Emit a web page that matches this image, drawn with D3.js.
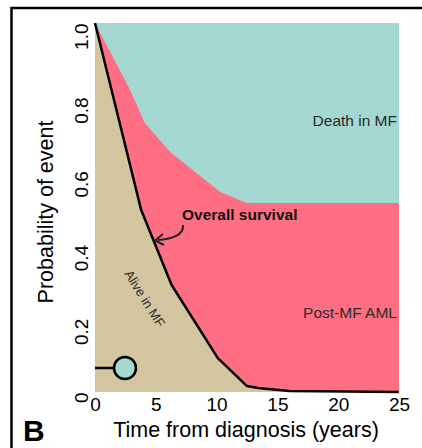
<!DOCTYPE html>
<html><head><meta charset="utf-8">
<script src="https://cdn.jsdelivr.net/npm/d3@7"></script>
<style>body{margin:0;background:#fff}svg{display:block}text{font-family:"Liberation Sans",Arial,sans-serif}</style>
</head><body>
<script>
// Overall survival (boundary Alive in MF / Post-MF AML)
const osTimes  = [0, 3.8, 6.3, 10.1, 12.5, 13.4, 16, 25];
const osValues = [1.0, 0.493, 0.29, 0.092, 0.016, 0.011, 0.003, 0.0];
// Cumulative Alive + Post-MF AML (boundary Post-MF AML / Death in MF)
const amlTimes  = [0, 2.9, 4.1, 6.2, 10.3, 12.5, 25];
const amlValues = [1.0, 0.818, 0.729, 0.65, 0.542, 0.512, 0.512];
const xTicks = [0, 5, 10, 15, 20, 25];
const yTicks = [0, 0.2, 0.4, 0.6, 0.8, 1.0];
const yTickLabels = ["0", "0.2", "0.4", "0.6", "0.8", "1.0"];
const regionLabels = ["Death in MF", "Post-MF AML", "Alive in MF"];

const W = 422, H = 448;
const FONT = '"Liberation Sans",Arial,sans-serif';
const svg = d3.select("body").append("svg").attr("width", W).attr("height", H);
const x = d3.scaleLinear().domain([0, 25]).range([95, 399]);
const y = d3.scaleLinear().domain([0, 1]).range([392, 23]);

const C_TEAL = "#a4d8d0", C_PINK = "#ff6f83", C_TAN = "#d3c59f";

// frame
svg.append("path").attr("d", `M11.5,${H} V8 H${W}`).attr("fill", "none").attr("stroke", "#000").attr("stroke-width", 2.5);

// teal background (Death in MF)
svg.append("rect").attr("x", x(0)).attr("y", y(1)).attr("width", x(25) - x(0)).attr("height", y(0) - y(1)).attr("fill", C_TEAL);

const os = osTimes.map((t, i) => [t, osValues[i]]);
const aml = amlTimes.map((t, i) => [t, amlValues[i]]);

svg.append("path").datum(aml)
  .attr("d", d3.area().x(d => x(d[0])).y0(y(0)).y1(d => y(d[1])))
  .attr("fill", C_PINK);
svg.append("path").datum(os)
  .attr("d", d3.area().x(d => x(d[0])).y0(y(0)).y1(d => y(d[1])))
  .attr("fill", C_TAN);
svg.append("path").datum(os)
  .attr("d", d3.line().x(d => x(d[0])).y(d => y(d[1])))
  .attr("fill", "none").attr("stroke", "#000").attr("stroke-width", 2.5).attr("stroke-linejoin", "round");

// axes
const gx = svg.append("g").attr("transform", `translate(0,${y(0)})`)
  .call(d3.axisBottom(x).tickValues(xTicks).tickSize(0).tickPadding(6).tickFormat(d3.format("d")));
gx.select(".domain").remove();
gx.selectAll("text").attr("font-size", 19).attr("fill", "#000").style("font-family", FONT);

const gy = svg.append("g").attr("transform", `translate(${x(0)},0)`)
  .call(d3.axisLeft(y).tickValues(yTicks).tickSize(0).tickFormat((d, i) => yTickLabels[i]));
gy.select(".domain").remove();
gy.selectAll("text").attr("x", 0).attr("dy", 0)
  .attr("transform", "translate(-7,0) rotate(-90)").attr("text-anchor", "end")
  .attr("font-size", 19).attr("fill", "#000").style("font-family", FONT);

// axis titles
svg.append("text").attr("x", 246).attr("y", 437).attr("text-anchor", "middle").attr("font-size", 21.5).text("Time from diagnosis (years)");
svg.append("text").attr("transform", "translate(53,212) rotate(-90)").attr("text-anchor", "middle").attr("font-size", 21.5).text("Probability of event");

// region labels
svg.append("text").attr("x", 397).attr("y", 126).attr("text-anchor", "end").attr("font-size", 15.5).attr("fill", "#2a2a2a").text(regionLabels[0]);
svg.append("text").attr("x", 397).attr("y", 318).attr("text-anchor", "end").attr("font-size", 15.5).attr("fill", "#2a2a2a").text(regionLabels[1]);
svg.append("text").attr("transform", "translate(141,301) rotate(58)").attr("text-anchor", "middle").attr("font-size", 13).attr("fill", "#2a2a2a").text(regionLabels[2]);

// Overall survival annotation
svg.append("text").attr("x", 182).attr("y", 220).attr("font-size", 15.5).attr("font-weight", "bold").attr("fill", "#111").text("Overall survival");
svg.append("path").attr("d", "M183,225 C184,235 172,239 158,240").attr("fill", "none").attr("stroke", "#222").attr("stroke-width", 2);
svg.append("path").attr("d", "M163,234 L155,240.5 L164,245").attr("fill", "none").attr("stroke", "#222").attr("stroke-width", 2);

// marker circle
svg.append("line").attr("x1", x(0)).attr("x2", 114).attr("y1", 368).attr("y2", 368).attr("stroke", "#000").attr("stroke-width", 2.5);
svg.append("circle").attr("cx", 125).attr("cy", 368).attr("r", 11).attr("fill", C_TEAL).attr("stroke", "#000").attr("stroke-width", 2.5);

// panel letter
svg.append("text").attr("x", 23).attr("y", 441).attr("font-size", 30).attr("font-weight", "bold").text("B");
</script>
</body></html>
